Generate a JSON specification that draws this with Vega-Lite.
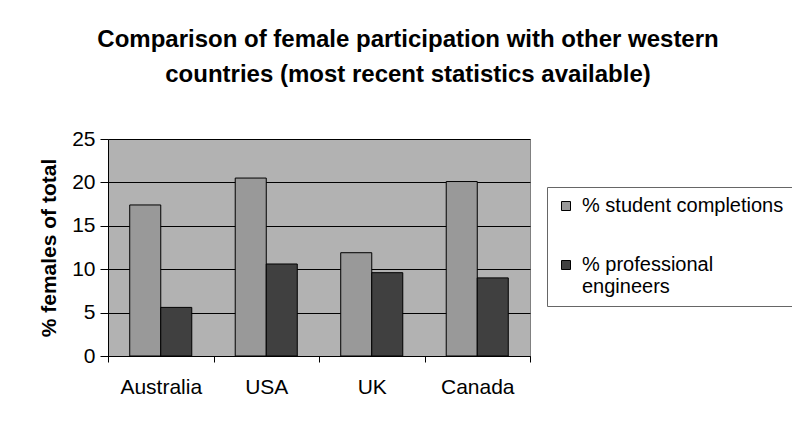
{
  "$schema": "https://vega.github.io/schema/vega-lite/v6.json",
  "width": 422,
  "height": 217,
  "padding": {"left": 38, "top": 28, "right": 5, "bottom": 5},
  "background": "white",
  "title": {
    "text": ["Comparison of female participation with other western", "countries (most recent statistics available)"],
    "font": "Liberation Sans",
    "fontSize": 24,
    "fontWeight": "bold",
    "color": "black",
    "anchor": "middle",
    "frame": "group",
    "dx": 89,
    "lineHeight": 35,
    "offset": 41
  },
  "data": {
    "values": [
      {"country": "Australia", "series": "% student completions", "value": 17.4},
      {"country": "Australia", "series": "% professional engineers", "value": 5.6},
      {"country": "USA", "series": "% student completions", "value": 20.5},
      {"country": "USA", "series": "% professional engineers", "value": 10.6},
      {"country": "UK", "series": "% student completions", "value": 11.9},
      {"country": "UK", "series": "% professional engineers", "value": 9.6},
      {"country": "Canada", "series": "% student completions", "value": 20.1},
      {"country": "Canada", "series": "% professional engineers", "value": 9.0}
    ]
  },
  "mark": {"type": "bar", "stroke": "black", "strokeWidth": 1},
  "encoding": {
    "x": {
      "field": "country",
      "type": "nominal",
      "sort": ["Australia", "USA", "UK", "Canada"],
      "scale": {"paddingInner": 0, "paddingOuter": 0},
      "axis": {
        "title": null,
        "labelAngle": 0,
        "tickBand": "extent",
        "domainColor": "black",
        "tickColor": "black",
        "tickSize": 6,
        "labelPadding": 14,
        "labelFont": "Liberation Sans",
        "labelFontSize": 21,
        "labelColor": "black"
      }
    },
    "xOffset": {
      "field": "series",
      "type": "nominal",
      "sort": ["% student completions", "% professional engineers"],
      "scale": {"paddingInner": 0, "paddingOuter": 0.7}
    },
    "y": {
      "field": "value",
      "type": "quantitative",
      "scale": {"domain": [0, 25], "nice": false},
      "axis": {
        "title": "% females of total",
        "titleFont": "Liberation Sans",
        "titleFontSize": 21,
        "titleFontWeight": "bold",
        "titleColor": "black",
        "titlePadding": 12,
        "values": [0, 5, 10, 15, 20, 25],
        "grid": true,
        "gridColor": "black",
        "gridOpacity": 1,
        "domainColor": "black",
        "tickColor": "black",
        "tickSize": 8,
        "labelPadding": 5,
        "labelFont": "Liberation Sans",
        "labelFontSize": 21,
        "labelColor": "black"
      }
    },
    "color": {
      "field": "series",
      "type": "nominal",
      "sort": ["% student completions", "% professional engineers"],
      "scale": {"range": ["#999999", "#404040"]},
      "legend": {
        "title": null,
        "orient": "none",
        "legendX": 439,
        "legendY": 48,
        "symbolType": "square",
        "symbolSize": 81,
        "symbolStrokeColor": "black",
        "symbolStrokeWidth": 1,
        "labelFont": "Liberation Sans",
        "labelFontSize": 20,
        "labelColor": "black",
        "labelLimit": 400,
        "labelExpr": "datum.label == '% professional engineers' ? ['% professional', 'engineers'] : datum.label",
        "rowPadding": 39,
        "padding": 9,
        "strokeColor": "#666666",
        "fillColor": "white",
        "labelOffset": 6
      }
    }
  },
  "config": {
    "view": {"fill": "#b2b2b2", "stroke": "#808080"},
    "axis": {"gridWidth": 1}
  }
}
